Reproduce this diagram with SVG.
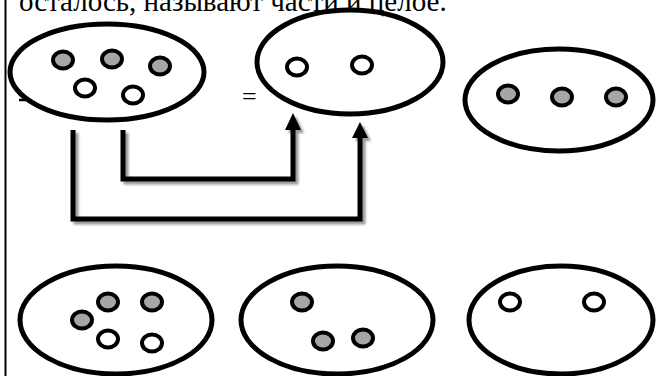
<svg xmlns="http://www.w3.org/2000/svg" width="656" height="376" viewBox="0 0 656 376">
  <style>
    .set { fill: none; stroke: #000; stroke-width: 5; }
    .grey { fill: #a6a6a6; stroke: #000; stroke-width: 4; }
    .white { fill: #fff; stroke: #000; stroke-width: 4; }
    .wire { fill: none; stroke: #000; stroke-width: 5; stroke-linejoin: miter; stroke-linecap: butt; }
    .shadow { fill: none; stroke: #999; stroke-width: 5; stroke-linejoin: miter; }
    .head { fill: #000; }
    .head-shadow { fill: #999; }
    .caption { font-family: "Liberation Serif", "Times New Roman", serif; font-size: 29px; fill: #000; }
    .sign { font-family: "Liberation Serif", "Times New Roman", serif; font-size: 26px; fill: #000; }
  </style>
  <defs>
    <filter id="soft" x="-10%" y="-10%" width="120%" height="120%">
      <feGaussianBlur stdDeviation="0.8"/>
    </filter>
  </defs>

  <rect width="656" height="376" fill="#fff"/>

  <!-- page margin rule -->
  <line x1="5.5" y1="0" x2="5.5" y2="376" stroke="#000" stroke-width="2"/>

  <!-- running text line, clipped by the top edge -->
  <text class="caption" x="19" y="11">осталось, называют части и целое.</text>

  <!-- stray mark and equals sign -->
  <line x1="19" y1="100" x2="26" y2="100" stroke="#000" stroke-width="2.5"/>
  <text class="sign" x="242" y="105">=</text>

  <!-- top row -->
  <g id="whole-top">
    <ellipse class="set" cx="107" cy="72" rx="97" ry="48"/>
    <ellipse class="grey" cx="63" cy="60" rx="10" ry="8.5"/>
    <ellipse class="grey" cx="112" cy="59" rx="10" ry="8.5"/>
    <ellipse class="grey" cx="160" cy="66" rx="10" ry="8.5"/>
    <ellipse class="white" cx="85" cy="88" rx="10" ry="8.5"/>
    <ellipse class="white" cx="133" cy="95" rx="10" ry="8.5"/>
  </g>

  <g id="part-white">
    <ellipse class="set" cx="350" cy="62" rx="93" ry="52"/>
    <ellipse class="white" cx="297" cy="67" rx="10" ry="8.5"/>
    <ellipse class="white" cx="362" cy="65" rx="10" ry="8.5"/>
  </g>

  <g id="part-grey">
    <ellipse class="set" cx="559" cy="100" rx="94" ry="51"/>
    <ellipse class="grey" cx="508" cy="94" rx="10" ry="8.5"/>
    <ellipse class="grey" cx="562" cy="97" rx="10" ry="8.5"/>
    <ellipse class="grey" cx="616" cy="97" rx="10" ry="8.5"/>
  </g>

  <!-- connectors -->
  <g id="connectors">
    <g filter="url(#soft)">
      <path class="shadow" d="M76,133 V222 H363 V141"/>
      <path class="shadow" d="M126,133 V182 H296 V133"/>
      <polygon class="head-shadow" points="296,116 304,133 288,133"/>
      <polygon class="head-shadow" points="363,125 371,141 355,141"/>
    </g>
    <path class="wire" d="M73,130 V219 H360 V136"/>
    <path class="wire" d="M123,130 V179 H293 V128"/>
    <polygon class="head" points="293,113 301,130 285,130"/>
    <polygon class="head" points="360,122 368,138 352,138"/>
  </g>

  <!-- bottom row -->
  <g id="whole-bottom">
    <ellipse class="set" cx="116" cy="320" rx="96" ry="54"/>
    <ellipse class="grey" cx="82" cy="320" rx="10" ry="8.5"/>
    <ellipse class="grey" cx="108" cy="302" rx="10" ry="8.5"/>
    <ellipse class="grey" cx="152" cy="302" rx="10" ry="8.5"/>
    <ellipse class="white" cx="108" cy="339" rx="10" ry="8.5"/>
    <ellipse class="white" cx="152" cy="343" rx="10" ry="8.5"/>
  </g>

  <g id="part-grey-bottom">
    <ellipse class="set" cx="337" cy="320" rx="96" ry="54"/>
    <ellipse class="grey" cx="302" cy="302" rx="10" ry="8.5"/>
    <ellipse class="grey" cx="323" cy="341" rx="10" ry="8.5"/>
    <ellipse class="grey" cx="363" cy="338" rx="10" ry="8.5"/>
  </g>

  <g id="part-white-bottom">
    <ellipse class="set" cx="561" cy="320" rx="92" ry="54"/>
    <ellipse class="white" cx="510" cy="302" rx="10" ry="8.5"/>
    <ellipse class="white" cx="594" cy="302" rx="10" ry="8.5"/>
  </g>
</svg>
